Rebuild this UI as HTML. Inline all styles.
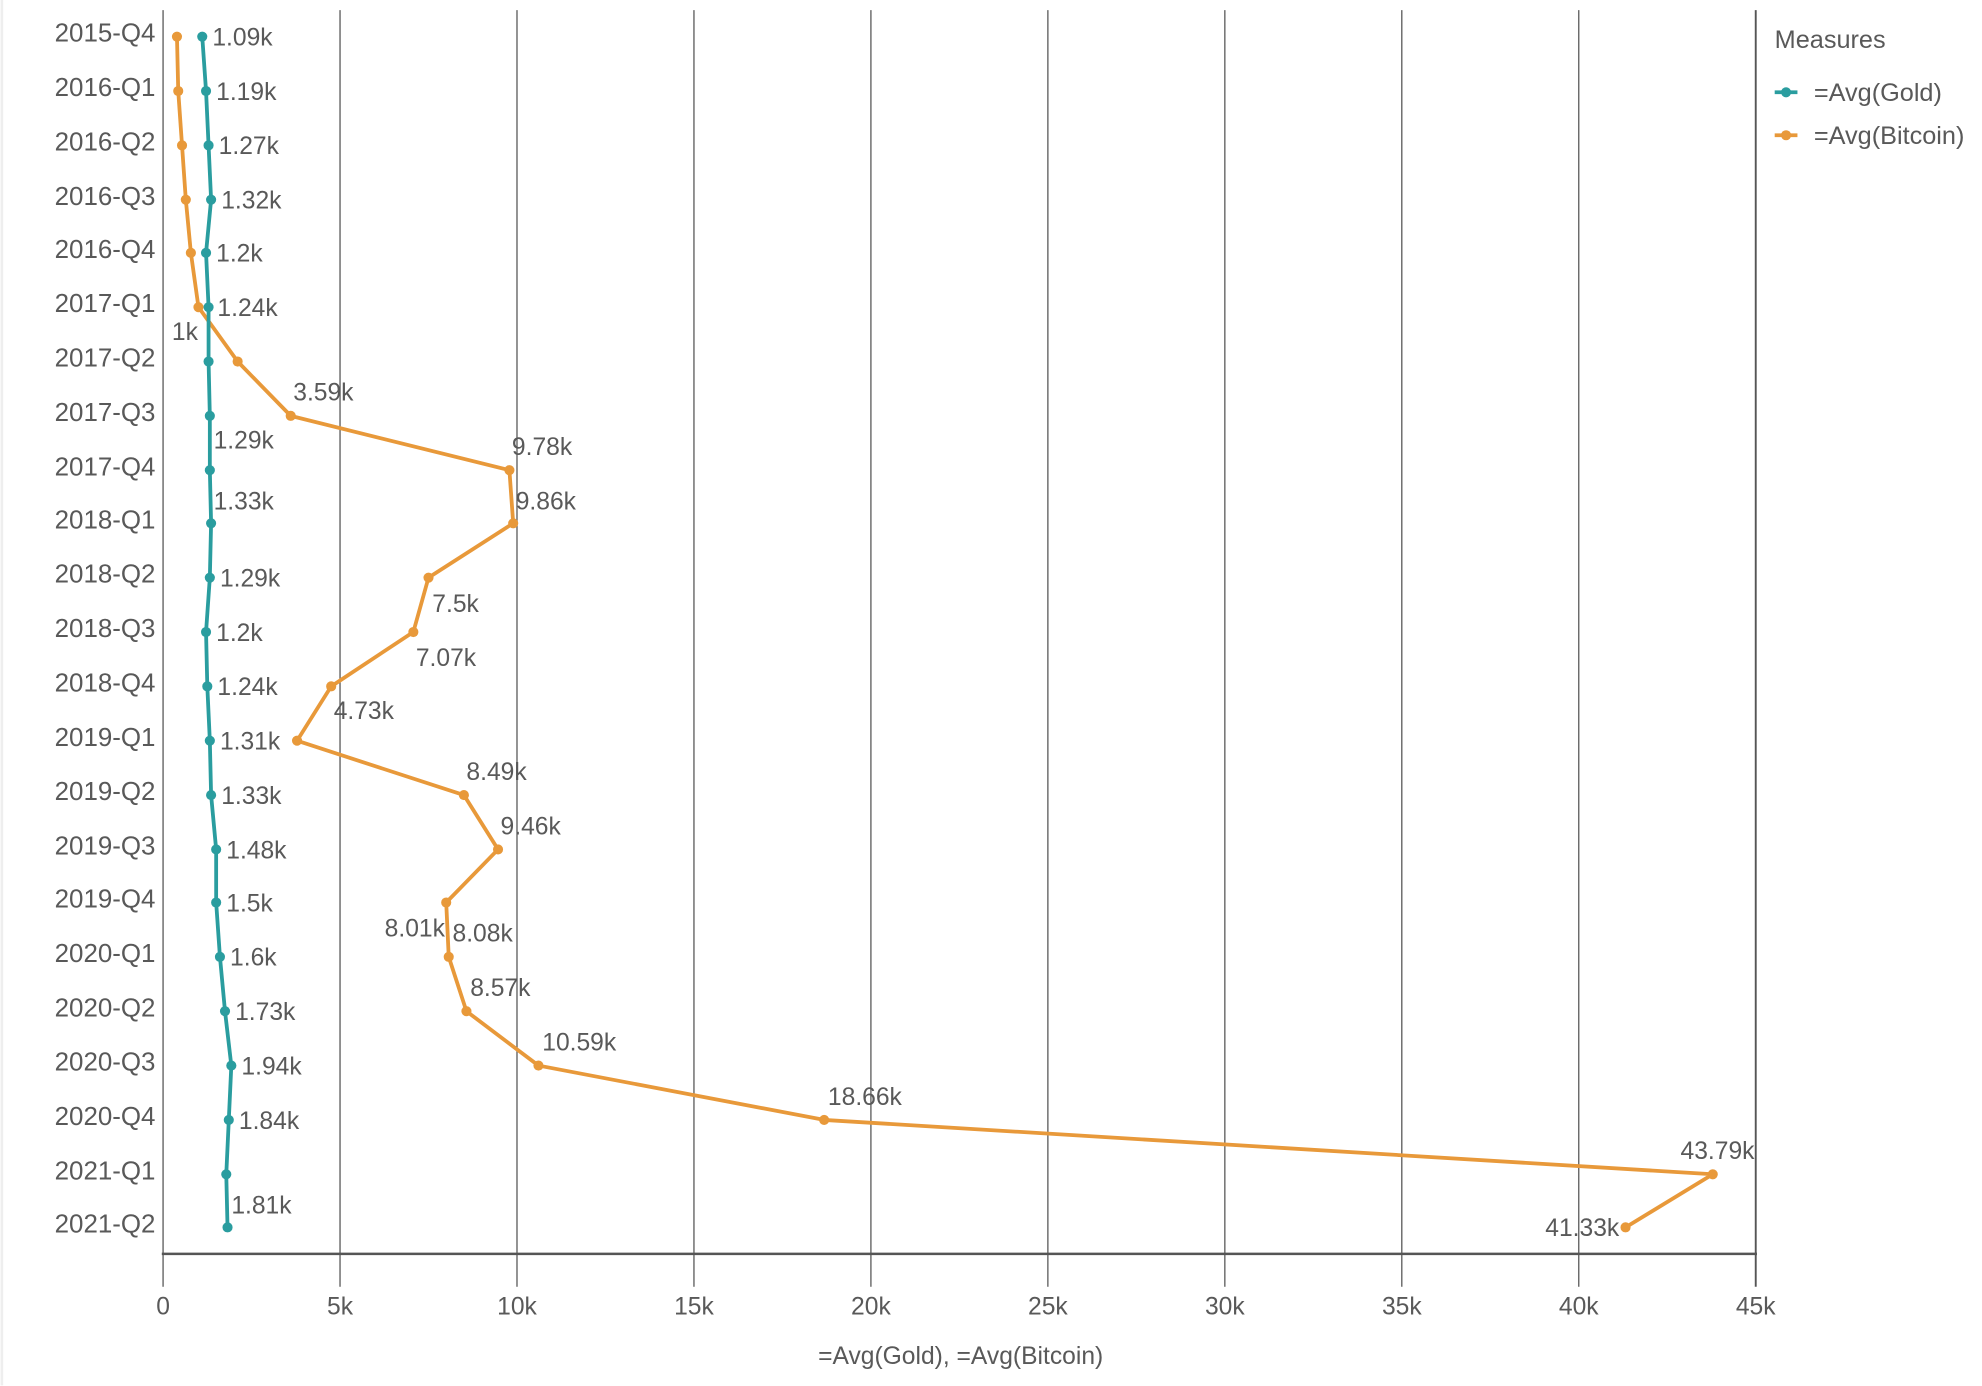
<!DOCTYPE html>
<html><head><meta charset="utf-8"><style>html,body{margin:0;padding:0;background:#fff}svg{display:block}text{font-family:"Liberation Sans",sans-serif;fill:#595959}</style></head>
<body>
<svg width="1982" height="1386" viewBox="0 0 1568 1096.5" xmlns="http://www.w3.org/2000/svg">
<rect width="1568" height="1096.5" fill="#fff"/>
<line x1="1.5" y1="0" x2="1.5" y2="1096" stroke="#eee" stroke-width="2"/>
<g stroke="#555" stroke-width="1">
<line x1="129" y1="8" x2="129" y2="992"/>
<line x1="269" y1="8" x2="269" y2="992"/>
<line x1="409" y1="8" x2="409" y2="992"/>
<line x1="549" y1="8" x2="549" y2="992"/>
<line x1="689" y1="8" x2="689" y2="992"/>
<line x1="829" y1="8" x2="829" y2="992"/>
<line x1="969" y1="8" x2="969" y2="992"/>
<line x1="1109" y1="8" x2="1109" y2="992"/>
<line x1="1249" y1="8" x2="1249" y2="992"/>
<line x1="1389" y1="8" x2="1389" y2="1018" stroke-width="1.5"/>
<line x1="129" y1="992" x2="129" y2="1018"/>
<line x1="269" y1="992" x2="269" y2="1018"/>
<line x1="409" y1="992" x2="409" y2="1018"/>
<line x1="549" y1="992" x2="549" y2="1018"/>
<line x1="689" y1="992" x2="689" y2="1018"/>
<line x1="829" y1="992" x2="829" y2="1018"/>
<line x1="969" y1="992" x2="969" y2="1018"/>
<line x1="1109" y1="992" x2="1109" y2="1018"/>
<line x1="1249" y1="992" x2="1249" y2="1018"/>
</g>
<line x1="128" y1="992" x2="1390" y2="992" stroke="#555" stroke-width="2"/>
<g font-size="19.5" text-anchor="middle">
<text x="129" y="1040">0</text><text x="269" y="1040">5k</text><text x="409" y="1040">10k</text><text x="549" y="1040">15k</text><text x="689" y="1040">20k</text><text x="829" y="1040">25k</text><text x="969" y="1040">30k</text><text x="1109" y="1040">35k</text><text x="1249" y="1040">40k</text><text x="1389" y="1040">45k</text>
<text x="760" y="1079">=Avg(Gold), =Avg(Bitcoin)</text>
</g>
<g font-size="20.5" text-anchor="end">
<text x="123" y="33">2015-Q4</text><text x="123" y="76">2016-Q1</text><text x="123" y="119">2016-Q2</text><text x="123" y="162">2016-Q3</text><text x="123" y="204">2016-Q4</text><text x="123" y="247">2017-Q1</text><text x="123" y="290">2017-Q2</text><text x="123" y="333">2017-Q3</text><text x="123" y="376">2017-Q4</text><text x="123" y="418">2018-Q1</text><text x="123" y="461">2018-Q2</text><text x="123" y="504">2018-Q3</text><text x="123" y="547">2018-Q4</text><text x="123" y="590">2019-Q1</text><text x="123" y="633">2019-Q2</text><text x="123" y="676">2019-Q3</text><text x="123" y="718">2019-Q4</text><text x="123" y="761">2020-Q1</text><text x="123" y="804">2020-Q2</text><text x="123" y="847">2020-Q3</text><text x="123" y="890">2020-Q4</text><text x="123" y="933">2021-Q1</text><text x="123" y="975">2021-Q2</text>
</g>
<!-- Bitcoin -->
<polyline fill="none" stroke="#e8993a" stroke-width="3" stroke-linejoin="round" points="140,29 141,72 144,115 147,158 151,200 157,243 188,286 230,329 403,372 406,414 339,457 327,500 262,543 235,586 367,629 394,672 353,714 355,757 369,800 426,843 652,886 1355,929 1286,971"/>
<g fill="#e8993a">
<circle cx="140" cy="29" r="4"/><circle cx="141" cy="72" r="4"/><circle cx="144" cy="115" r="4"/><circle cx="147" cy="158" r="4"/><circle cx="151" cy="200" r="4"/><circle cx="157" cy="243" r="4"/><circle cx="188" cy="286" r="4"/><circle cx="230" cy="329" r="4"/><circle cx="403" cy="372" r="4"/><circle cx="406" cy="414" r="4"/><circle cx="339" cy="457" r="4"/><circle cx="327" cy="500" r="4"/><circle cx="262" cy="543" r="4"/><circle cx="235" cy="586" r="4"/><circle cx="367" cy="629" r="4"/><circle cx="394" cy="672" r="4"/><circle cx="353" cy="714" r="4"/><circle cx="355" cy="757" r="4"/><circle cx="369" cy="800" r="4"/><circle cx="426" cy="843" r="4"/><circle cx="652" cy="886" r="4"/><circle cx="1355" cy="929" r="4"/><circle cx="1286" cy="971" r="4"/>
</g>
<!-- Gold -->
<polyline fill="none" stroke="#2a9d9f" stroke-width="3" stroke-linejoin="round" points="160,29 163,72 165,115 167,158 163,200 165,243 165,286 166,329 166,372 167,414 166,457 163,500 164,543 166,586 167,629 171,672 171,714 174,757 178,800 183,843 181,886 179,929 180,971"/>
<g fill="#2a9d9f">
<circle cx="160" cy="29" r="4"/><circle cx="163" cy="72" r="4"/><circle cx="165" cy="115" r="4"/><circle cx="167" cy="158" r="4"/><circle cx="163" cy="200" r="4"/><circle cx="165" cy="243" r="4"/><circle cx="165" cy="286" r="4"/><circle cx="166" cy="329" r="4"/><circle cx="166" cy="372" r="4"/><circle cx="167" cy="414" r="4"/><circle cx="166" cy="457" r="4"/><circle cx="163" cy="500" r="4"/><circle cx="164" cy="543" r="4"/><circle cx="166" cy="586" r="4"/><circle cx="167" cy="629" r="4"/><circle cx="171" cy="672" r="4"/><circle cx="171" cy="714" r="4"/><circle cx="174" cy="757" r="4"/><circle cx="178" cy="800" r="4"/><circle cx="183" cy="843" r="4"/><circle cx="181" cy="886" r="4"/><circle cx="179" cy="929" r="4"/><circle cx="180" cy="971" r="4"/>
</g>
<g font-size="19.5">
<text x="168" y="36">1.09k</text><text x="171" y="79">1.19k</text><text x="173" y="122">1.27k</text><text x="175" y="165">1.32k</text><text x="171" y="207">1.2k</text><text x="172" y="250">1.24k</text>
<text x="169" y="355">1.29k</text><text x="169" y="403">1.33k</text><text x="174" y="464">1.29k</text><text x="171" y="507">1.2k</text><text x="172" y="550">1.24k</text><text x="174" y="593">1.31k</text><text x="175" y="636">1.33k</text><text x="179" y="679">1.48k</text><text x="179" y="721">1.5k</text><text x="182" y="764">1.6k</text><text x="186" y="807">1.73k</text><text x="191" y="850">1.94k</text><text x="189" y="893">1.84k</text><text x="183" y="960">1.81k</text>
<text x="136" y="269">1k</text><text x="232" y="317">3.59k</text><text x="405" y="360">9.78k</text><text x="408" y="403">9.86k</text><text x="342" y="484">7.5k</text><text x="329" y="527">7.07k</text><text x="264" y="569">4.73k</text><text x="369" y="617">8.49k</text><text x="396" y="660">9.46k</text><text x="352" y="741" text-anchor="end">8.01k</text><text x="358" y="745">8.08k</text><text x="372" y="788">8.57k</text><text x="429" y="831">10.59k</text><text x="655" y="874">18.66k</text><text x="1388" y="917" text-anchor="end">43.79k</text><text x="1281" y="978" text-anchor="end">41.33k</text>
</g>
<g font-size="20">
<text x="1404" y="38">Measures</text>
<line x1="1404" y1="73" x2="1422" y2="73" stroke="#2a9d9f" stroke-width="3"/><circle cx="1413" cy="73" r="4" fill="#2a9d9f"/>
<text x="1435" y="80">=Avg(Gold)</text>
<line x1="1404" y1="107" x2="1422" y2="107" stroke="#e8993a" stroke-width="3"/><circle cx="1413" cy="107" r="4" fill="#e8993a"/>
<text x="1435" y="114">=Avg(Bitcoin)</text>
</g>
</svg>
</body></html>
